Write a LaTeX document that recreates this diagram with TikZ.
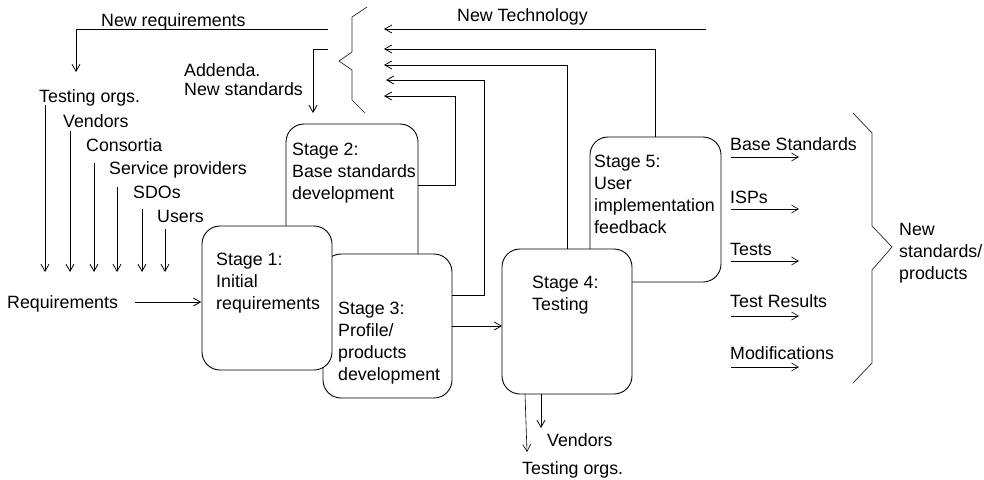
\documentclass[tikz,border=0pt]{standalone}
\usepackage{fontspec}
\setmainfont{Liberation Sans}
\usetikzlibrary{arrows.meta}
\begin{document}
\begin{tikzpicture}[x=1pt,y=-1pt,
  arr/.style={-{Straight Barb[length=7pt,width=8pt]}, line width=0.8pt},
  stg/.style={draw, line width=0.9pt, fill=white, rounded corners=18pt, inner sep=0pt, outer sep=0pt, anchor=north west},
  txt/.style={font=\fontsize{17.8}{22}\selectfont, align=left, inner sep=0pt, anchor=north west},
  lbl/.style={font=\fontsize{17.8}{22}\selectfont, inner sep=0pt, anchor=base west},
  brc/.style={line width=0.7pt, black!85}
]
\useasboundingbox (0,0) rectangle (984,479);

% stage boxes (drawing order gives the overlaps)
\node[stg, minimum width=132pt, minimum height=176pt] (s2) at (286,124) {};
\node[stg, minimum width=129pt, minimum height=144pt] (s3) at (323,254) {};
\node[stg, minimum width=130pt, minimum height=144pt] (s1) at (202,226) {};
\node[stg, minimum width=131pt, minimum height=145pt] (s5) at (590,137) {};
\node[stg, minimum width=130pt, minimum height=145pt] (s4) at (502,249) {};

\node[txt] (t1) at (216,253) {Stage 1:\\Initial\\requirements};
\node[txt] (t2) at (292,143) {Stage 2:\\Base standards\\development};
\node[txt] (t3) at (338,302) {Stage 3:\\Profile/\\products\\development};
\node[txt] (t4) at (532,276) {Stage 4:\\Testing};
\node[txt] (t5) at (594,155) {Stage 5:\\User\\implementation\\feedback};

% top labels
\node[lbl] (nr) at (101,26) {New requirements};
\node[lbl] (nt) at (457,21) {New Technology};
\node[txt, font=\fontsize{17.8}{19.5}\selectfont] (ad) at (184,63) {Addenda.\\New standards};

% left list
\node[lbl] (l1) at (39,102) {Testing orgs.};
\node[lbl] (l2) at (63,127) {Vendors};
\node[lbl] (l3) at (86,151) {Consortia};
\node[lbl] (l4) at (109,174) {Service providers};
\node[lbl] (l5) at (133,198) {SDOs};
\node[lbl] (l6) at (157,222) {Users};
\node[lbl] (req) at (7,308) {Requirements};

% right outputs
\node[lbl] (o1) at (730,150) {Base Standards};
\node[lbl] (o2) at (730,203) {ISPs};
\node[lbl] (o3) at (730,255) {Tests};
\node[lbl] (o4) at (730,307) {Test Results};
\node[lbl] (o5) at (730,359) {Modifications};
\node[txt] (ns) at (899,223) {New\\standards/\\products};

% bottom labels
\node[lbl] (bt1) at (547,446) {Vendors};
\node[lbl] (bt2) at (522,474) {Testing orgs.};

% braces
\draw[brc] (367,7) -- (352,17) -- (352,52) -- (339,61) -- (352,70) -- (352,100) -- (365,113);
\draw[brc] (853,113) -- (872,133) -- (872,226) -- (892,247) -- (872,270) -- (872,363) -- (853,383);

% coordinates at the brace
\coordinate (b1) at (384,29);
\coordinate (b2) at (384,49);
\coordinate (b3) at (384,65);
\coordinate (b4) at (386,80);
\coordinate (b5) at (384,96);
\coordinate (ntend) at (706,29);
\coordinate (nrs) at (328,29);
\coordinate (ads) at (328,49);

% feedback into the brace
\draw[arr] (ntend) -- (b1);
\draw[arr] (s5.north) |- (b2);
\draw[arr] (s4.north) |- (b3);
\draw[arr] ([yshift=31pt]s3.east) -- ++(32,0) |- (b4);
\draw[arr] ([yshift=27pt]s2.east) -- ++(37,0) |- (b5);

% out of the brace
\draw[arr] (nrs) -| ([shift={(37,-30)}]l1.base west);
\draw[arr] (ads) -| ([shift={(27,-11)}]s2.north west);

% list arrows
\draw[arr] ([shift={(6,3)}]l1.base west) -- ++(0,167);
\draw[arr] ([shift={(7,4)}]l2.base west) -- ++(0,141);
\draw[arr] ([shift={(8,12)}]l3.base west) -- ++(0,109);
\draw[arr] ([shift={(8,13)}]l4.base west) -- ++(0,85);
\draw[arr] ([shift={(9,11)}]l5.base west) -- ++(0,63);
\draw[arr] ([shift={(8,7)}]l6.base west) -- ++(0,43);

% requirements into stage 1
\draw[arr] ([shift={(17,-6)}]req.base east) -- ++(66,0);

% stage 3 to stage 4
\draw[arr] (s3.east) -- (s3.east -| s4.west);

% stage 4 outputs
\draw[arr, line width=0.6pt] ([xshift=23pt]s4.south west) -- ([shift={(5,-22)}]bt2.base west);
\draw[arr] ([xshift=39pt]s4.south west) -- ([shift={(-6,-18)}]bt1.base west);

% right output arrows
\draw[arr, line width=0.6pt] ([shift={(1,7)}]o1.base west) -- ++(68,0);
\draw[arr, line width=0.6pt] ([shift={(1,6)}]o2.base west) -- ++(68,0);
\draw[arr, line width=0.6pt] ([shift={(1,6)}]o3.base west) -- ++(68,0);
\draw[arr, line width=0.6pt] ([shift={(1,9)}]o4.base west) -- ++(68,0);
\draw[arr, line width=0.6pt] ([shift={(1,8)}]o5.base west) -- ++(68,0);
\end{tikzpicture}
\end{document}
